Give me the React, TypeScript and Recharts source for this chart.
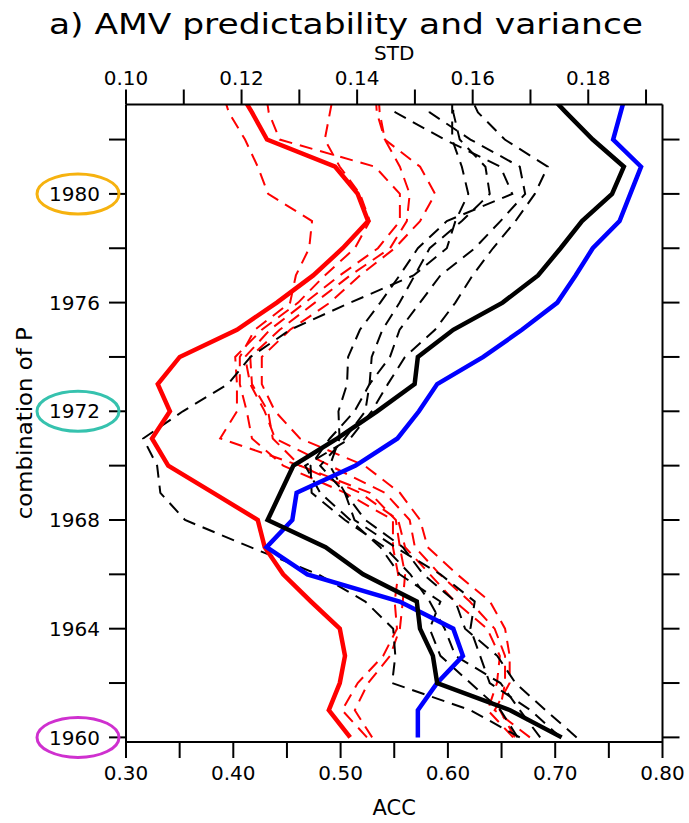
import React from 'react';
import { LineChart, Line, XAxis, YAxis, Label } from 'recharts';

const FONT = 'DejaVu Sans, Verdana, sans-serif';

// Combination year P for every profile point (the last one runs past the frame and is clipped)
const years = [
  1960, 1961, 1962, 1963, 1964, 1965, 1966, 1967, 1968, 1969, 1970, 1971, 1972,
  1973, 1974, 1975, 1976, 1977, 1978, 1979, 1980, 1981, 1982, 1983, 1984,
];

// Axis ticks
const yearTicks = [1960, 1962, 1964, 1966, 1968, 1970, 1972, 1974, 1976, 1978, 1980, 1982];
const accTicks = [0.3, 0.35, 0.4, 0.45, 0.5, 0.55, 0.6, 0.65, 0.7, 0.75, 0.8];
const stdTicks = [0.1, 0.11, 0.12, 0.13, 0.14, 0.15, 0.16, 0.17, 0.18, 0.19];

// Years whose labels are circled, with ring colour
const circledYears: Record<number, string> = {
  1960: '#cf30cf',
  1972: '#36c2ae',
  1980: '#f6b20f',
};

// Ensemble-mean STD (thick red)
const stdMean = [
  0.1388, 0.1351, 0.137, 0.1379, 0.137, 0.132, 0.1272, 0.124, 0.1228, 0.1151, 0.1073, 0.1045,
  0.1076, 0.1055, 0.1093, 0.1192, 0.1261, 0.1324, 0.1375, 0.1419, 0.1401, 0.1362, 0.1244,
  0.1218, 0.119,
];

// Ensemble-mean ACC (thick black)
const accMean = [
  0.706, 0.658, 0.59, 0.586, 0.574, 0.571, 0.521, 0.486, 0.432, 0.444, 0.456, 0.497, 0.534,
  0.569, 0.572, 0.605, 0.651, 0.684, 0.705, 0.725, 0.753, 0.764, 0.735, 0.71, 0.686,
];

// ACC of the combined forecast (thick blue)
const accCombined = [
  0.572, 0.572, 0.59, 0.614, 0.605, 0.555, 0.469, 0.431, 0.455, 0.459, 0.514, 0.553, 0.573,
  0.59, 0.633, 0.669, 0.702, 0.719, 0.735, 0.76, 0.77, 0.78, 0.754, 0.761, 0.768,
];

// Individual members, STD (dashed red)
const stdMember1 = [
  0.1417, 0.1374, 0.1401, 0.1445, 0.1469, 0.1465, 0.1471, 0.1462, 0.1462, 0.1379, 0.1272,
  0.1218, 0.1209, 0.1197, 0.1197, 0.1223, 0.1284, 0.1294, 0.1317, 0.1322, 0.1246, 0.1228,
  0.1206, 0.1178, 0.1163,
];
const stdMember2 = [
  0.1699, 0.1638, 0.1664, 0.1664, 0.1656, 0.163, 0.1573, 0.1522, 0.1509, 0.1474, 0.1413,
  0.1301, 0.1258, 0.1235, 0.1235, 0.1284, 0.1353, 0.1405, 0.1465, 0.1509, 0.1535, 0.1509,
  0.1448, 0.1434, 0.1431,
];
const stdMember3 = [
  0.1673, 0.1647, 0.1656, 0.1656, 0.1638, 0.1595, 0.1543, 0.15, 0.1491, 0.1448, 0.1353,
  0.1258, 0.124, 0.1215, 0.1206, 0.1249, 0.131, 0.137, 0.1436, 0.1474, 0.1474, 0.1431,
  0.1266, 0.1247, 0.124,
];
const stdMember4 = [
  0.167, 0.1626, 0.1642, 0.1647, 0.1625, 0.1569, 0.1526, 0.1483, 0.1471, 0.1405, 0.1301,
  0.1163, 0.1192, 0.1192, 0.1189, 0.1235, 0.1298, 0.1344, 0.1396, 0.1422, 0.1405, 0.137,
  0.1344, 0.1353, 0.1362,
];
const stdMember5 = [
  0.1426, 0.1396, 0.1419, 0.1457, 0.1474, 0.1479, 0.1483, 0.1474, 0.1467, 0.1422, 0.1301,
  0.1254, 0.1246, 0.1218, 0.1215, 0.1266, 0.1327, 0.1388, 0.1457, 0.1486, 0.1491, 0.1474,
  0.1448, 0.1439, 0.1436,
];

// Individual members, ACC (dashed black)
const accMember1 = [
  0.667, 0.621, 0.548, 0.551, 0.549, 0.523, 0.479, 0.416, 0.355, 0.332, 0.329, 0.316, 0.353,
  0.395, 0.416, 0.453, 0.509, 0.568, 0.599, 0.607, 0.619, 0.613, 0.604, 0.604, 0.604,
];
const accMember2 = [
  0.72, 0.691, 0.663, 0.646, 0.616, 0.607, 0.577, 0.558, 0.523, 0.504, 0.49, 0.499, 0.498,
  0.506, 0.507, 0.518, 0.537, 0.555, 0.572, 0.599, 0.66, 0.649, 0.597, 0.551, 0.537,
];
const accMember3 = [
  0.665, 0.649, 0.621, 0.593, 0.583, 0.593, 0.555, 0.537, 0.509, 0.481, 0.467, 0.509, 0.529,
  0.544, 0.56, 0.588, 0.607, 0.623, 0.642, 0.663, 0.681, 0.693, 0.653, 0.628, 0.616,
];
const accMember4 = [
  0.705, 0.677, 0.639, 0.63, 0.621, 0.625, 0.593, 0.551, 0.513, 0.504, 0.481, 0.504, 0.523,
  0.527, 0.529, 0.539, 0.555, 0.569, 0.583, 0.613, 0.639, 0.635, 0.611, 0.605, 0.604,
];
const accMember5 = [
  0.686, 0.667, 0.649, 0.607, 0.597, 0.583, 0.565, 0.541, 0.504, 0.473, 0.472, 0.49, 0.513,
  0.527, 0.546, 0.555, 0.574, 0.593, 0.625, 0.649, 0.672, 0.667, 0.621, 0.583, 0.574,
];

const data = years.map((year, i) => ({
  year,
  stdMean: stdMean[i],
  accMean: accMean[i],
  accCombined: accCombined[i],
  stdMember1: stdMember1[i],
  stdMember2: stdMember2[i],
  stdMember3: stdMember3[i],
  stdMember4: stdMember4[i],
  stdMember5: stdMember5[i],
  accMember1: accMember1[i],
  accMember2: accMember2[i],
  accMember3: accMember3[i],
  accMember4: accMember4[i],
  accMember5: accMember5[i],
}));

const stdMemberKeys = ['stdMember1', 'stdMember2', 'stdMember3', 'stdMember4', 'stdMember5'];
const accMemberKeys = ['accMember1', 'accMember2', 'accMember3', 'accMember4', 'accMember5'];

const YEAR_DOMAIN: [number, number] = [1959.83, 1983.29];
const axisStroke = { stroke: '#000', strokeWidth: 2 };
const tickFont = { fill: '#000', fontSize: 20, fontFamily: FONT };

function YearTick(props: any) {
  const { x, y, payload } = props;
  const v = payload.value as number;
  const text = v % 4 === 0 ? String(v) : '';
  const ring = circledYears[v];
  return (
    <g>
      {ring && (
        <ellipse cx={x - 22} cy={y} rx={41} ry={20} fill="none" stroke={ring} strokeWidth={3} />
      )}
      <text
        x={x}
        y={y}
        dy="0.36em"
        textAnchor="end"
        fill="#000"
        fontSize={20}
        fontFamily={FONT}
      >
        {text}
      </text>
    </g>
  );
}

const TitleLabel = () => (
  <text
    x={346}
    y={34}
    textAnchor="middle"
    fontSize={29}
    fontFamily={FONT}
    fill="#000"
    textLength={594}
    lengthAdjust="spacingAndGlyphs"
  >
    a)  AMV predictability and variance
  </text>
);

const StdLabel = (props: any) => {
  const vb = props.viewBox || {};
  const cx = (vb.x ?? 126) + (vb.width ?? 536.5) / 2;
  return (
    <text x={cx} y={60} textAnchor="middle" fontSize={20} fontFamily={FONT} fill="#000">
      STD
    </text>
  );
};

const AccLabel = (props: any) => {
  const vb = props.viewBox || {};
  const cx = (vb.x ?? 126) + (vb.width ?? 536.5) / 2;
  return (
    <text x={cx} y={815} textAnchor="middle" fontSize={21} fontFamily={FONT} fill="#000">
      ACC
    </text>
  );
};

const YTitle = (props: any) => {
  const vb = props.viewBox || {};
  const cy = (vb.y ?? 104.5) + (vb.height ?? 637.5) / 2;
  return (
    <text
      transform={`translate(32, ${cy}) rotate(-90)`}
      textAnchor="middle"
      fontSize={21}
      fontFamily={FONT}
      fill="#000"
      textLength={192}
      lengthAdjust="spacingAndGlyphs"
    >
      combination of P
    </text>
  );
};

export default function App() {
  return (
    <div
      style={{
        position: 'absolute',
        left: 0,
        top: 0,
        width: 689,
        height: 823,
        background: '#fff',
      }}
    >
      <LineChart
        width={689}
        height={823}
        data={data}
        layout="vertical"
        margin={{ top: 0, right: 0, bottom: 0, left: 0 }}
      >
        <XAxis
          xAxisId="std"
          orientation="top"
          type="number"
          domain={[0.1, 0.19285]}
          allowDataOverflow
          ticks={stdTicks}
          interval={0}
          height={104.5}
          tickSize={15}
          tickMargin={5}
          axisLine={axisStroke}
          tickLine={axisStroke}
          tick={tickFont}
          tickFormatter={(v: number) => (Math.round(v * 100) % 2 === 0 ? v.toFixed(2) : '')}
        >
          <Label content={<TitleLabel />} />
          <Label content={<StdLabel />} />
        </XAxis>
        <XAxis
          xAxisId="acc"
          orientation="bottom"
          type="number"
          domain={[0.3, 0.8]}
          allowDataOverflow
          ticks={accTicks}
          interval={0}
          height={81}
          tickSize={16}
          tickMargin={8}
          axisLine={axisStroke}
          tickLine={axisStroke}
          tick={tickFont}
          tickFormatter={(v: number) => (Math.round(v * 100) % 10 === 0 ? v.toFixed(2) : '')}
        >
          <Label content={<AccLabel />} />
        </XAxis>
        <YAxis
          yAxisId="left"
          orientation="left"
          type="number"
          dataKey="year"
          domain={YEAR_DOMAIN}
          reversed
          allowDataOverflow
          ticks={yearTicks}
          interval={0}
          width={126}
          tickSize={17}
          tickMargin={9}
          axisLine={axisStroke}
          tickLine={axisStroke}
          tick={<YearTick />}
        >
          <Label content={<YTitle />} />
        </YAxis>
        <YAxis
          yAxisId="right"
          orientation="right"
          type="number"
          dataKey="year"
          domain={YEAR_DOMAIN}
          reversed
          allowDataOverflow
          ticks={yearTicks}
          interval={0}
          width={26.5}
          tickSize={17}
          axisLine={axisStroke}
          tickLine={axisStroke}
          tickFormatter={() => ''}
        />

        {stdMemberKeys.map((k) => (
          <Line
            key={k}
            xAxisId="std"
            yAxisId="left"
            dataKey={k}
            stroke="#ff0000"
            strokeWidth={2}
            strokeDasharray="13 8"
            dot={false}
            activeDot={false}
            isAnimationActive={false}
          />
        ))}
        {accMemberKeys.map((k) => (
          <Line
            key={k}
            xAxisId="acc"
            yAxisId="left"
            dataKey={k}
            stroke="#000"
            strokeWidth={2}
            strokeDasharray="13 8"
            dot={false}
            activeDot={false}
            isAnimationActive={false}
          />
        ))}
        <Line
          xAxisId="std"
          yAxisId="left"
          dataKey="stdMean"
          stroke="#ff0000"
          strokeWidth={4.5}
          dot={false}
          activeDot={false}
          isAnimationActive={false}
        />
        <Line
          xAxisId="acc"
          yAxisId="left"
          dataKey="accCombined"
          stroke="#0000ff"
          strokeWidth={4.5}
          dot={false}
          activeDot={false}
          isAnimationActive={false}
        />
        <Line
          xAxisId="acc"
          yAxisId="left"
          dataKey="accMean"
          stroke="#000"
          strokeWidth={4.5}
          dot={false}
          activeDot={false}
          isAnimationActive={false}
        />
      </LineChart>
    </div>
  );
}
